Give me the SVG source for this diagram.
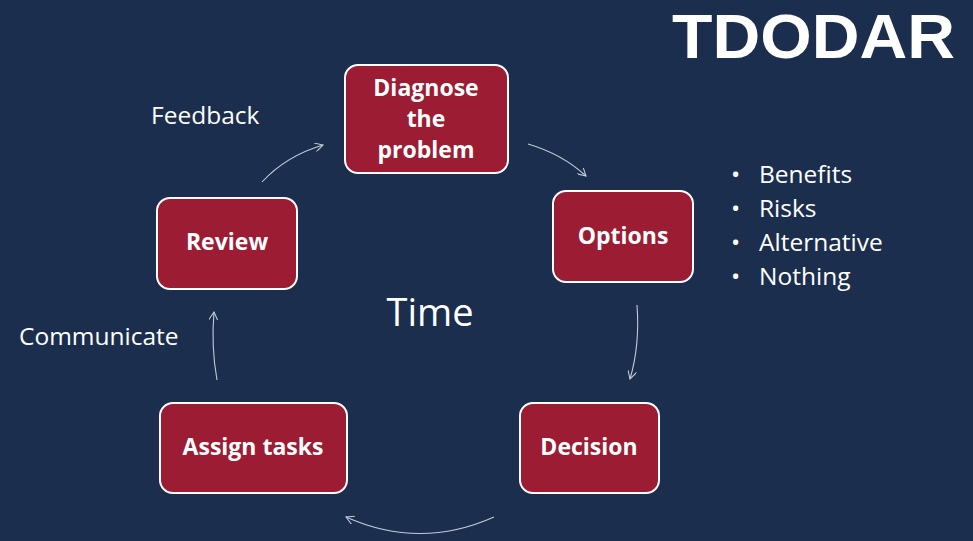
<svg xmlns="http://www.w3.org/2000/svg" width="973" height="541" viewBox="0 0 973 541">
<defs>
<style>
.node rect{fill:#9b1c33;stroke:#ffffff;stroke-width:2}
.lbl{font-family:"Open Sans","Liberation Sans",sans-serif;font-weight:bold;font-size:23px;fill:#ffffff;text-anchor:middle}
.txt{font-family:"Open Sans","Liberation Sans",sans-serif;font-size:24.5px;fill:#ffffff}
.big{font-family:"Open Sans","Liberation Sans",sans-serif;font-size:38px;fill:#ffffff;text-anchor:middle}
.conn path{fill:none;stroke:#c3cad8;stroke-width:1.1}
</style>
<marker id="ah" viewBox="0 0 10 10" refX="9" refY="5" markerWidth="9" markerHeight="9" markerUnits="userSpaceOnUse" orient="auto">
<path d="M0,0 L9,5 L0,10" fill="none" stroke="#c3cad8" stroke-width="1.2"/>
</marker>
</defs>
<rect x="0" y="0" width="973" height="541" fill="#1b2e4e"/>
<text x="672" y="58" font-family="'Liberation Sans',Arial,sans-serif" font-weight="bold" font-size="63" fill="#ffffff" textLength="283" lengthAdjust="spacingAndGlyphs">TDODAR</text>
<g class="conn">
<path d="M528,144 Q562,154 586,176" marker-end="url(#ah)"/>
<path d="M637,305 Q640,345 630,379" marker-end="url(#ah)"/>
<path d="M494,517 Q420,550 346,517" marker-end="url(#ah)"/>
<path d="M217,380 Q211,346 214,312" marker-end="url(#ah)"/>
<path d="M262,182 Q286,156 323,145" marker-end="url(#ah)"/>
</g>
<g id="diagnose" class="node">
<rect x="345" y="65" width="163" height="108" rx="13"/>
<text class="lbl" x="426" y="96">Diagnose</text>
<text class="lbl" x="426" y="127">the</text>
<text class="lbl" x="426" y="158">problem</text>
</g>
<g id="options" class="node">
<rect x="553" y="191" width="140" height="91" rx="13"/>
<text class="lbl" x="623" y="244">Options</text>
</g>
<g id="decision" class="node">
<rect x="520" y="403" width="139" height="90" rx="13"/>
<text class="lbl" x="589" y="455">Decision</text>
</g>
<g id="assign" class="node">
<rect x="160" y="403" width="187" height="90" rx="13"/>
<text class="lbl" x="253" y="455">Assign tasks</text>
</g>
<g id="review" class="node">
<rect x="157" y="198" width="140" height="91" rx="13"/>
<text class="lbl" x="227" y="250">Review</text>
</g>
<text class="txt" x="151" y="124">Feedback</text>
<text class="txt" x="19" y="345">Communicate</text>
<text class="big" x="430" y="326">Time</text>
<g class="txt">
<text x="731" y="183">•</text><text x="759" y="183">Benefits</text>
<text x="731" y="217">•</text><text x="759" y="217">Risks</text>
<text x="731" y="251">•</text><text x="759" y="251">Alternative</text>
<text x="731" y="285">•</text><text x="759" y="285">Nothing</text>
</g>
</svg>
